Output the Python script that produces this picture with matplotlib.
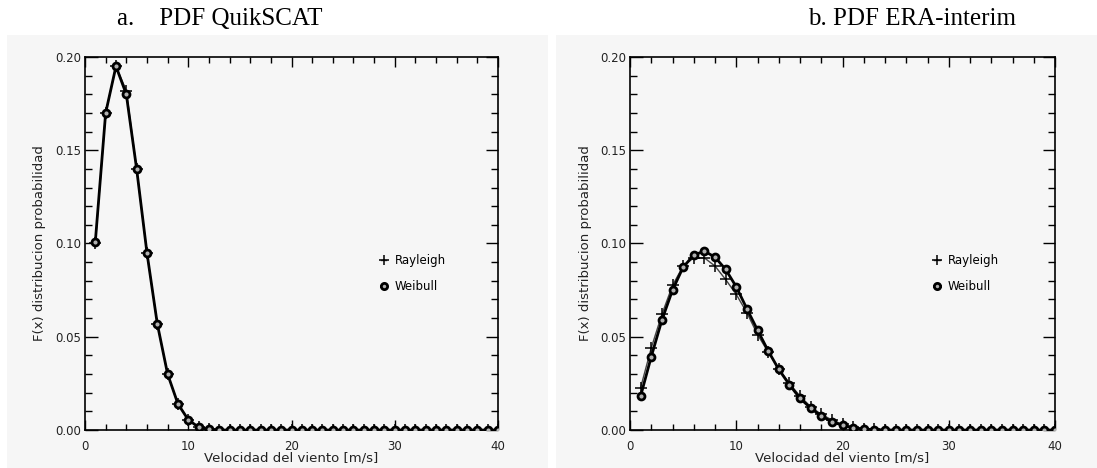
import numpy as np
import matplotlib.pyplot as plt
from matplotlib.patches import Rectangle
from matplotlib.ticker import MultipleLocator

# wind speed bins [m/s]
speed = np.arange(1, 41)

# a. QuikSCAT
quik_rayleigh = [0.100, 0.170, 0.195, 0.182, 0.140, 0.095, 0.057, 0.030, 0.014, 0.0055,
                 0.0015, 0.0003] + [0.0] * 28
quik_weibull = [0.101, 0.170, 0.195, 0.180, 0.140, 0.095, 0.057, 0.030, 0.014, 0.0055,
                0.0015, 0.0003] + [0.0] * 28

# b. ERA-interim
era_rayleigh = [0.0227, 0.0440, 0.0620, 0.0775, 0.0879, 0.0923, 0.0923, 0.0879, 0.0807, 0.0727,
                0.0629, 0.0512, 0.0418, 0.0329, 0.0250, 0.0182, 0.0125, 0.0084, 0.0054, 0.0030,
                0.0016, 0.0008, 0.0004, 0.0002] + [0.0] * 16
era_weibull = [0.0182, 0.0393, 0.0589, 0.0750, 0.0873, 0.0938, 0.0959, 0.0927, 0.0861, 0.0768,
               0.0650, 0.0536, 0.0425, 0.0325, 0.0243, 0.0170, 0.0118, 0.0075, 0.0045, 0.0025,
               0.0012, 0.0005, 0.0002] + [0.0] * 17

titles = ['a.    PDF QuikSCAT', 'b. PDF ERA-interim']
xlabel = 'Velocidad del viento [m/s]'
ylabel = 'F(x) distribucion probabilidad'

W, H = 1097, 468
fig = plt.figure(figsize=(W / 100, H / 100), dpi=100)
fig.patch.set_facecolor('white')

# gray panel backgrounds
for x0, x1 in [(7, 548), (556, 1097)]:
    fig.add_artist(Rectangle((x0 / W, 0), (x1 - x0) / W, (H - 35) / H,
                             transform=fig.transFigure, facecolor='#f6f6f6',
                             edgecolor='none', zorder=-5))

panels = [
    (85, 498, quik_rayleigh, quik_weibull),
    (630, 1055, era_rayleigh, era_weibull),
]
ax_top, ax_bot = 57, 430

for i, (x0, x1, ray, wei) in enumerate(panels):
    ax = fig.add_axes([x0 / W, (H - ax_bot) / H, (x1 - x0) / W, (ax_bot - ax_top) / H])
    ax.set_facecolor('none')

    ax.plot(speed, ray, color='#444444', lw=1.0, marker='+', ms=8, mew=1.1,
            mec='black', label='Rayleigh', zorder=3)
    ax.plot(speed, wei, color='black', lw=2.0, marker='o', ms=5, mew=2.0,
            mfc='#b0b0b0', mec='black', label='Weibull', zorder=4)

    ax.set_xlim(0, 40)
    ax.set_ylim(0, 0.2)
    ax.xaxis.set_major_locator(MultipleLocator(10))
    ax.xaxis.set_minor_locator(MultipleLocator(2))
    ax.yaxis.set_major_locator(MultipleLocator(0.05))
    ax.yaxis.set_minor_locator(MultipleLocator(0.01))
    ax.xaxis.set_major_formatter(lambda v, p: '%d' % v)
    ax.yaxis.set_major_formatter(lambda v, p: '%.2f' % v)
    ax.tick_params(which='both', direction='in', top=True, right=True, color='black',
                   labelsize=8.5, labelcolor='#222222')
    ax.tick_params(axis='x', which='major', length=7, width=1, pad=7)
    ax.tick_params(axis='x', which='minor', length=4, width=1)
    ax.tick_params(axis='y', which='major', length=9, width=1, pad=3)
    ax.tick_params(axis='y', which='minor', length=5, width=1)
    for s in ax.spines.values():
        s.set_linewidth(1.2)

    ax.set_xlabel(xlabel, fontsize=9.5, color='#222222', labelpad=-1)
    ax.set_ylabel(ylabel, fontsize=9.5, color='#222222', labelpad=6)

    ax.legend(loc='center left', bbox_to_anchor=(0.69, 0.42), frameon=False,
              handlelength=0.5, handletextpad=0.7, labelspacing=1.1, fontsize=8.5,
              numpoints=1, markerscale=0.9)

fig.text(220 / W, 1 - 19 / H, titles[0], ha='center', va='center',
         family='Liberation Serif', fontsize=18)
fig.text(912 / W, 1 - 19 / H, titles[1], ha='center', va='center',
         family='Liberation Serif', fontsize=18)

fig.savefig('out.png', dpi=100, facecolor='white')
